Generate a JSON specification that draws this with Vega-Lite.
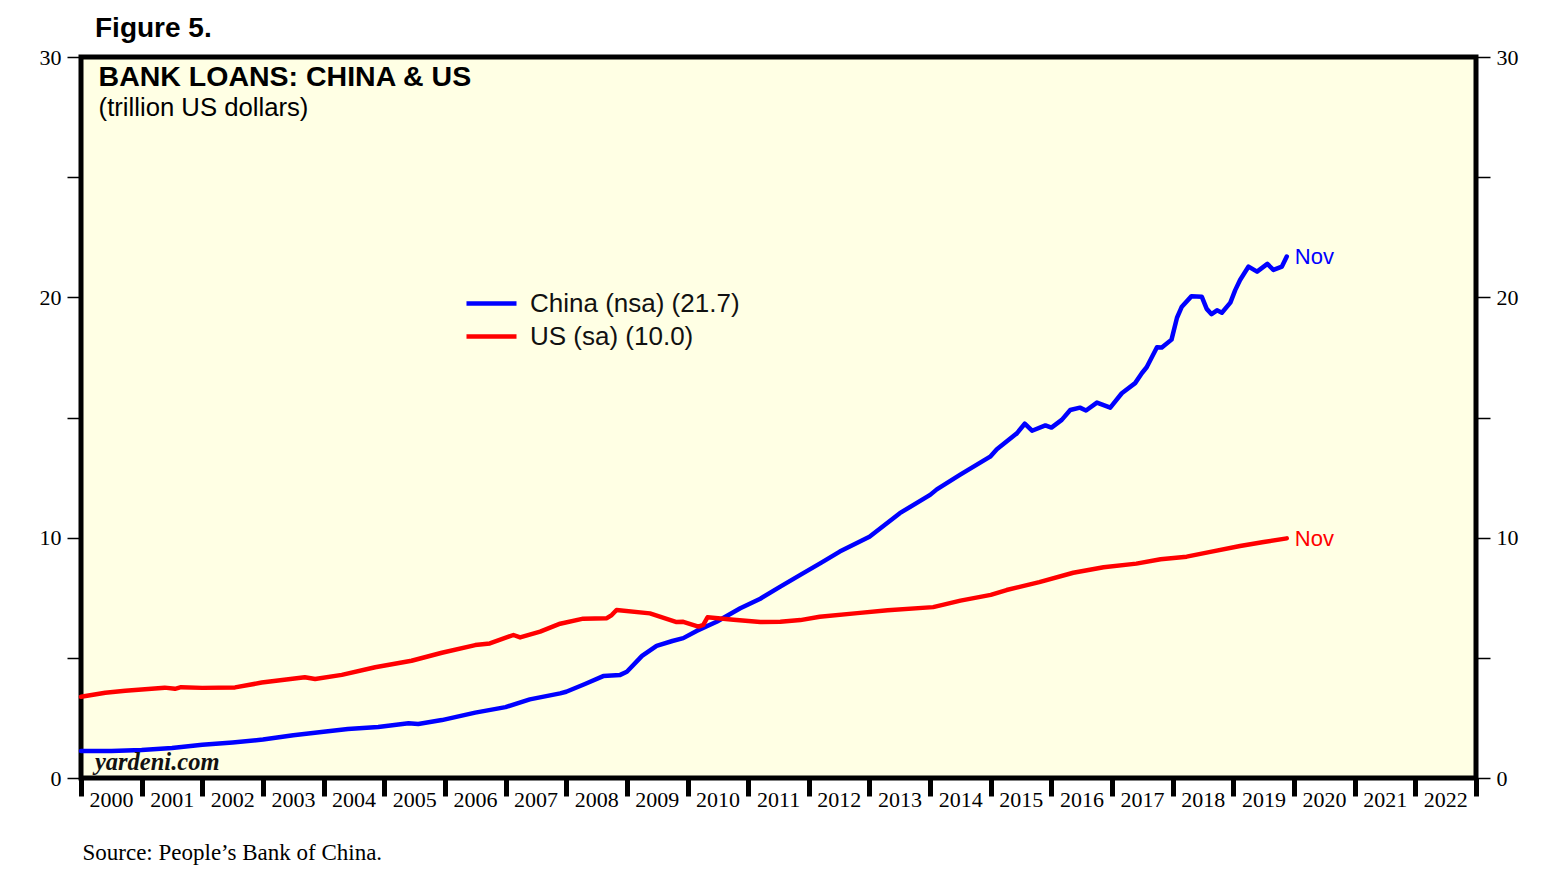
{
  "$schema": "https://vega.github.io/schema/vega-lite/v6.json",
  "autosize": {"type": "none"},
  "padding": {"left": 81, "top": 57, "right": 75, "bottom": 112},
  "width": 1395,
  "height": 721,
  "background": "white",
  "title": {"text": "Figure 5.", "anchor": "start", "dx": 56, "offset": 3, "font": "Liberation Sans", "fontSize": 28, "fontWeight": "bold", "color": "black"},
  "config": {
    "view": {"stroke": "black", "strokeWidth": 5, "fill": "#FFFFE4"},
    "axis": {"domain": false, "grid": false, "tickColor": "black", "labelColor": "black", "labelFont": "Liberation Serif", "labelFontSize": 22},
    "legend": {"orient": "none", "legendX": 393, "legendY": 229, "symbolType": "M-1.667,0H1.667", "symbolSize": 900, "symbolStrokeWidth": 4.5, "labelFont": "Liberation Sans", "labelFontSize": 26, "labelColor": "#111", "labelOffset": 21, "rowPadding": 2, "labelLimit": 400}
  },
  "data": {"values": [
    {"d": 2000.0, "v": 1.12, "s": "China (nsa) (21.7)"},
    {"d": 2000.5, "v": 1.12, "s": "China (nsa) (21.7)"},
    {"d": 2001.0, "v": 1.17, "s": "China (nsa) (21.7)"},
    {"d": 2001.5, "v": 1.25, "s": "China (nsa) (21.7)"},
    {"d": 2002.0, "v": 1.38, "s": "China (nsa) (21.7)"},
    {"d": 2002.5, "v": 1.48, "s": "China (nsa) (21.7)"},
    {"d": 2003.0, "v": 1.6, "s": "China (nsa) (21.7)"},
    {"d": 2003.5, "v": 1.78, "s": "China (nsa) (21.7)"},
    {"d": 2004.0, "v": 1.92, "s": "China (nsa) (21.7)"},
    {"d": 2004.4, "v": 2.04, "s": "China (nsa) (21.7)"},
    {"d": 2004.9, "v": 2.12, "s": "China (nsa) (21.7)"},
    {"d": 2005.4, "v": 2.28, "s": "China (nsa) (21.7)"},
    {"d": 2005.56, "v": 2.25, "s": "China (nsa) (21.7)"},
    {"d": 2005.95, "v": 2.41, "s": "China (nsa) (21.7)"},
    {"d": 2006.5, "v": 2.72, "s": "China (nsa) (21.7)"},
    {"d": 2007.0, "v": 2.95, "s": "China (nsa) (21.7)"},
    {"d": 2007.4, "v": 3.27, "s": "China (nsa) (21.7)"},
    {"d": 2007.9, "v": 3.52, "s": "China (nsa) (21.7)"},
    {"d": 2008.0, "v": 3.59, "s": "China (nsa) (21.7)"},
    {"d": 2008.3, "v": 3.9, "s": "China (nsa) (21.7)"},
    {"d": 2008.61, "v": 4.24, "s": "China (nsa) (21.7)"},
    {"d": 2008.89, "v": 4.29, "s": "China (nsa) (21.7)"},
    {"d": 2009.0, "v": 4.42, "s": "China (nsa) (21.7)"},
    {"d": 2009.25, "v": 5.08, "s": "China (nsa) (21.7)"},
    {"d": 2009.49, "v": 5.5, "s": "China (nsa) (21.7)"},
    {"d": 2009.75, "v": 5.7, "s": "China (nsa) (21.7)"},
    {"d": 2009.93, "v": 5.82, "s": "China (nsa) (21.7)"},
    {"d": 2010.15, "v": 6.12, "s": "China (nsa) (21.7)"},
    {"d": 2010.48, "v": 6.5, "s": "China (nsa) (21.7)"},
    {"d": 2010.87, "v": 7.06, "s": "China (nsa) (21.7)"},
    {"d": 2011.2, "v": 7.46, "s": "China (nsa) (21.7)"},
    {"d": 2011.53, "v": 7.96, "s": "China (nsa) (21.7)"},
    {"d": 2011.86, "v": 8.45, "s": "China (nsa) (21.7)"},
    {"d": 2012.2, "v": 8.95, "s": "China (nsa) (21.7)"},
    {"d": 2012.51, "v": 9.42, "s": "China (nsa) (21.7)"},
    {"d": 2013.0, "v": 10.04, "s": "China (nsa) (21.7)"},
    {"d": 2013.5, "v": 11.02, "s": "China (nsa) (21.7)"},
    {"d": 2014.0, "v": 11.78, "s": "China (nsa) (21.7)"},
    {"d": 2014.11, "v": 12.01, "s": "China (nsa) (21.7)"},
    {"d": 2014.49, "v": 12.61, "s": "China (nsa) (21.7)"},
    {"d": 2014.99, "v": 13.37, "s": "China (nsa) (21.7)"},
    {"d": 2015.1, "v": 13.68, "s": "China (nsa) (21.7)"},
    {"d": 2015.43, "v": 14.34, "s": "China (nsa) (21.7)"},
    {"d": 2015.56, "v": 14.74, "s": "China (nsa) (21.7)"},
    {"d": 2015.68, "v": 14.45, "s": "China (nsa) (21.7)"},
    {"d": 2015.9, "v": 14.67, "s": "China (nsa) (21.7)"},
    {"d": 2016.0, "v": 14.58, "s": "China (nsa) (21.7)"},
    {"d": 2016.17, "v": 14.9, "s": "China (nsa) (21.7)"},
    {"d": 2016.31, "v": 15.31, "s": "China (nsa) (21.7)"},
    {"d": 2016.47, "v": 15.41, "s": "China (nsa) (21.7)"},
    {"d": 2016.57, "v": 15.29, "s": "China (nsa) (21.7)"},
    {"d": 2016.75, "v": 15.62, "s": "China (nsa) (21.7)"},
    {"d": 2016.97, "v": 15.41, "s": "China (nsa) (21.7)"},
    {"d": 2017.16, "v": 16.01, "s": "China (nsa) (21.7)"},
    {"d": 2017.38, "v": 16.43, "s": "China (nsa) (21.7)"},
    {"d": 2017.49, "v": 16.84, "s": "China (nsa) (21.7)"},
    {"d": 2017.57, "v": 17.09, "s": "China (nsa) (21.7)"},
    {"d": 2017.74, "v": 17.92, "s": "China (nsa) (21.7)"},
    {"d": 2017.82, "v": 17.91, "s": "China (nsa) (21.7)"},
    {"d": 2017.98, "v": 18.24, "s": "China (nsa) (21.7)"},
    {"d": 2018.07, "v": 19.15, "s": "China (nsa) (21.7)"},
    {"d": 2018.15, "v": 19.61, "s": "China (nsa) (21.7)"},
    {"d": 2018.31, "v": 20.05, "s": "China (nsa) (21.7)"},
    {"d": 2018.48, "v": 20.02, "s": "China (nsa) (21.7)"},
    {"d": 2018.56, "v": 19.52, "s": "China (nsa) (21.7)"},
    {"d": 2018.64, "v": 19.3, "s": "China (nsa) (21.7)"},
    {"d": 2018.73, "v": 19.46, "s": "China (nsa) (21.7)"},
    {"d": 2018.81, "v": 19.36, "s": "China (nsa) (21.7)"},
    {"d": 2018.95, "v": 19.78, "s": "China (nsa) (21.7)"},
    {"d": 2019.03, "v": 20.3, "s": "China (nsa) (21.7)"},
    {"d": 2019.11, "v": 20.72, "s": "China (nsa) (21.7)"},
    {"d": 2019.25, "v": 21.28, "s": "China (nsa) (21.7)"},
    {"d": 2019.39, "v": 21.07, "s": "China (nsa) (21.7)"},
    {"d": 2019.56, "v": 21.39, "s": "China (nsa) (21.7)"},
    {"d": 2019.66, "v": 21.14, "s": "China (nsa) (21.7)"},
    {"d": 2019.8, "v": 21.28, "s": "China (nsa) (21.7)"},
    {"d": 2019.88, "v": 21.7, "s": "China (nsa) (21.7)"},
    {"d": 2000.0, "v": 3.38, "s": "US (sa) (10.0)"},
    {"d": 2000.4, "v": 3.55, "s": "US (sa) (10.0)"},
    {"d": 2000.73, "v": 3.63, "s": "US (sa) (10.0)"},
    {"d": 2001.0, "v": 3.68, "s": "US (sa) (10.0)"},
    {"d": 2001.38, "v": 3.76, "s": "US (sa) (10.0)"},
    {"d": 2001.55, "v": 3.71, "s": "US (sa) (10.0)"},
    {"d": 2001.65, "v": 3.78, "s": "US (sa) (10.0)"},
    {"d": 2002.0, "v": 3.75, "s": "US (sa) (10.0)"},
    {"d": 2002.54, "v": 3.77, "s": "US (sa) (10.0)"},
    {"d": 2002.98, "v": 3.97, "s": "US (sa) (10.0)"},
    {"d": 2003.69, "v": 4.19, "s": "US (sa) (10.0)"},
    {"d": 2003.86, "v": 4.12, "s": "US (sa) (10.0)"},
    {"d": 2004.3, "v": 4.29, "s": "US (sa) (10.0)"},
    {"d": 2004.85, "v": 4.61, "s": "US (sa) (10.0)"},
    {"d": 2005.45, "v": 4.88, "s": "US (sa) (10.0)"},
    {"d": 2005.95, "v": 5.21, "s": "US (sa) (10.0)"},
    {"d": 2006.5, "v": 5.53, "s": "US (sa) (10.0)"},
    {"d": 2006.74, "v": 5.6, "s": "US (sa) (10.0)"},
    {"d": 2007.13, "v": 5.95, "s": "US (sa) (10.0)"},
    {"d": 2007.24, "v": 5.85, "s": "US (sa) (10.0)"},
    {"d": 2007.57, "v": 6.09, "s": "US (sa) (10.0)"},
    {"d": 2007.9, "v": 6.42, "s": "US (sa) (10.0)"},
    {"d": 2008.28, "v": 6.63, "s": "US (sa) (10.0)"},
    {"d": 2008.67, "v": 6.65, "s": "US (sa) (10.0)"},
    {"d": 2008.75, "v": 6.78, "s": "US (sa) (10.0)"},
    {"d": 2008.83, "v": 6.99, "s": "US (sa) (10.0)"},
    {"d": 2009.38, "v": 6.85, "s": "US (sa) (10.0)"},
    {"d": 2009.82, "v": 6.49, "s": "US (sa) (10.0)"},
    {"d": 2009.93, "v": 6.5, "s": "US (sa) (10.0)"},
    {"d": 2010.18, "v": 6.3, "s": "US (sa) (10.0)"},
    {"d": 2010.26, "v": 6.37, "s": "US (sa) (10.0)"},
    {"d": 2010.33, "v": 6.69, "s": "US (sa) (10.0)"},
    {"d": 2010.76, "v": 6.58, "s": "US (sa) (10.0)"},
    {"d": 2011.2, "v": 6.49, "s": "US (sa) (10.0)"},
    {"d": 2011.53, "v": 6.5, "s": "US (sa) (10.0)"},
    {"d": 2011.86, "v": 6.57, "s": "US (sa) (10.0)"},
    {"d": 2012.18, "v": 6.71, "s": "US (sa) (10.0)"},
    {"d": 2012.8, "v": 6.86, "s": "US (sa) (10.0)"},
    {"d": 2013.3, "v": 6.98, "s": "US (sa) (10.0)"},
    {"d": 2014.05, "v": 7.11, "s": "US (sa) (10.0)"},
    {"d": 2014.5, "v": 7.38, "s": "US (sa) (10.0)"},
    {"d": 2015.0, "v": 7.62, "s": "US (sa) (10.0)"},
    {"d": 2015.26, "v": 7.82, "s": "US (sa) (10.0)"},
    {"d": 2015.8, "v": 8.15, "s": "US (sa) (10.0)"},
    {"d": 2016.36, "v": 8.54, "s": "US (sa) (10.0)"},
    {"d": 2016.86, "v": 8.77, "s": "US (sa) (10.0)"},
    {"d": 2017.4, "v": 8.92, "s": "US (sa) (10.0)"},
    {"d": 2017.8, "v": 9.1, "s": "US (sa) (10.0)"},
    {"d": 2018.23, "v": 9.21, "s": "US (sa) (10.0)"},
    {"d": 2018.6, "v": 9.4, "s": "US (sa) (10.0)"},
    {"d": 2019.11, "v": 9.65, "s": "US (sa) (10.0)"},
    {"d": 2019.5, "v": 9.82, "s": "US (sa) (10.0)"},
    {"d": 2019.88, "v": 9.97, "s": "US (sa) (10.0)"}
  ]},
  "layer": [
    {
      "mark": {"type": "line", "strokeWidth": 4.5, "strokeJoin": "round", "strokeCap": "round"},
      "encoding": {
        "x": {"field": "d", "type": "quantitative", "scale": {"domain": [2000, 2023], "nice": false, "zero": false},
          "axis": {"values": [2000,2001,2002,2003,2004,2005,2006,2007,2008,2009,2010,2011,2012,2013,2014,2015,2016,2017,2018,2019,2020,2021,2022,2023],
            "format": "d", "labelExpr": "datum.value == 2023 ? '' : datum.label", "tickSize": 18, "tickWidth": 5, "labelOffset": 30, "labelPadding": -7, "labelBaseline": "top", "labelFlush": false, "labelOverlap": false,
            "title": "Source: People’s Bank of China.", "titleFont": "Liberation Serif", "titleFontSize": 23, "titleFontWeight": "normal", "titleColor": "black", "titleAnchor": "start", "titleAlign": "left", "titleX": 1, "titleY": 81, "titleBaseline": "alphabetic"}},
        "y": {"field": "v", "type": "quantitative", "scale": {"domain": [0, 30], "nice": false},
          "axis": {"orient": "left", "values": [0,5,10,15,20,25,30], "labelExpr": "datum.value % 10 == 0 ? datum.label : ''", "tickSize": 14, "tickWidth": 1.5, "labelPadding": 6, "title": null}},
        "color": {"field": "s", "type": "nominal", "title": null, "scale": {"domain": ["China (nsa) (21.7)", "US (sa) (10.0)"], "range": ["#0000FF", "#FF0000"]}}
      }
    },
    {
      "transform": [
        {"joinaggregate": [{"op": "max", "field": "d", "as": "maxd"}], "groupby": ["s"]},
        {"filter": "datum.d == datum.maxd"}
      ],
      "mark": {"type": "text", "text": "Nov", "align": "left", "baseline": "middle", "dx": 8, "dy": 1, "font": "Liberation Sans", "fontSize": 22},
      "encoding": {
        "x": {"field": "d", "type": "quantitative"},
        "y": {"field": "v", "type": "quantitative",
          "axis": {"orient": "right", "values": [0,5,10,15,20,25,30], "labelExpr": "datum.value % 10 == 0 ? datum.label : ''", "tickSize": 14, "tickWidth": 1.5, "labelPadding": 6, "title": null}},
        "color": {"field": "s", "type": "nominal"}
      }
    },
    {
      "data": {"values": [{}]},
      "mark": {"type": "text", "text": "BANK LOANS: CHINA & US", "align": "left", "baseline": "top", "font": "Liberation Sans", "fontSize": 28.5, "fontWeight": "bold", "color": "black"},
      "encoding": {"x": {"datum": 2000.29, "type": "quantitative"}, "y": {"datum": 29.75, "type": "quantitative", "axis": null}}
    },
    {
      "data": {"values": [{}]},
      "mark": {"type": "text", "text": "(trillion US dollars)", "align": "left", "baseline": "top", "font": "Liberation Sans", "fontSize": 25.7, "color": "black"},
      "encoding": {"x": {"datum": 2000.29, "type": "quantitative"}, "y": {"datum": 28.37, "type": "quantitative", "axis": null}}
    },
    {
      "data": {"values": [{}]},
      "mark": {"type": "text", "text": "yardeni.com", "align": "left", "baseline": "alphabetic", "font": "Liberation Serif", "fontSize": 24.5, "fontWeight": "bold", "fontStyle": "italic", "color": "#111"},
      "encoding": {"x": {"datum": 2000.23, "type": "quantitative"}, "y": {"datum": 0.33, "type": "quantitative", "axis": null}}
    }
  ],
  "resolve": {"axis": {"y": "independent"}}
}
